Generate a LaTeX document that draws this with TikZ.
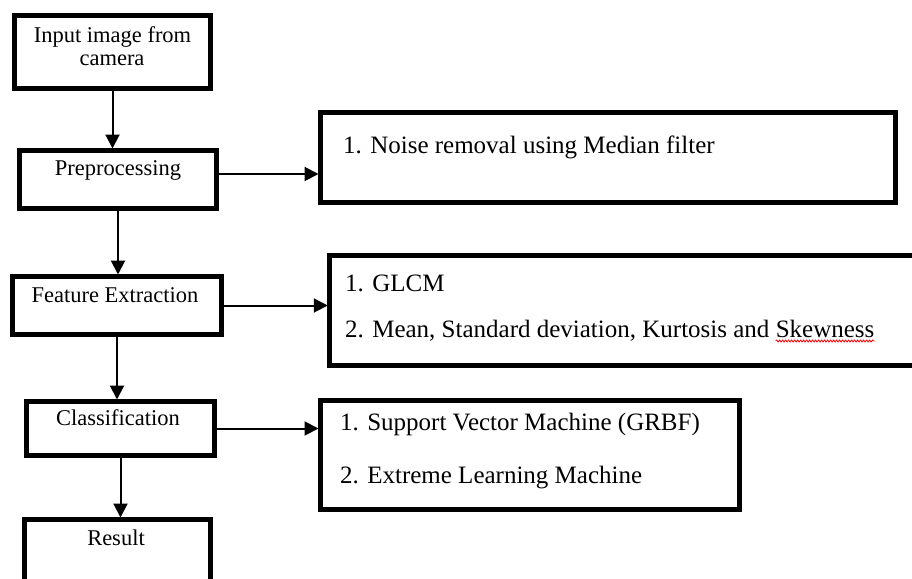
\documentclass[tikz,border=0pt]{standalone}
\usepackage{fontspec}
\setmainfont{Liberation Serif}
\usetikzlibrary{arrows.meta,decorations.pathmorphing}
\begin{document}
\begin{tikzpicture}[x=1pt,y=-1pt,
  box/.style={draw, line width=5pt, rectangle, inner sep=0pt, outer sep=0pt},
  ltxt/.style={inner sep=0pt, anchor=base, font=\fontsize{22.5}{24}\selectfont},
  rtxt/.style={inner sep=0pt, anchor=base west, font=\fontsize{25}{27}\selectfont},
  arr/.style={line width=2pt, -{Triangle[length=14pt,width=14pt]}, shorten >=2pt}]
\clip (0,0) rectangle (912,578);
\fill[white] (0,0) rectangle (912,578);
% left column
\node[box, minimum width=196pt, minimum height=73pt] (in) at (112.5,52) {};
\node[box, minimum width=197pt, minimum height=58pt] (pre) at (118,179.5) {};
\node[box, minimum width=209pt, minimum height=58pt] (feat) at (117,305.5) {};
\node[box, minimum width=188pt, minimum height=54pt] (cls) at (120.5,428.5) {};
\node[box, minimum width=186pt, minimum height=100pt] (res) at (117.5,569.5) {};
\node[ltxt] (in1) at (112.5,42) {Input image from};
\node[ltxt] (in2) at (112,65) {camera};
\node[ltxt] (pret) at (118,175) {Preprocessing};
\node[ltxt] (featt) at (115,302) {Feature Extraction};
\node[ltxt] (clst) at (118,425) {Classification};
\node[ltxt] (rest) at (116,545) {Result};
% right column
\node[box, minimum width=575pt, minimum height=90pt] (r1) at (608,157.5) {};
\node[box, minimum width=620pt, minimum height=110pt] (r2) at (639.75,310.5) {};
\node[box, minimum width=419pt, minimum height=109pt] (r3) at (530,455) {};
\node[rtxt] (r1a) at (343,153) {1. Noise removal using Median filter};
\node[rtxt] (r2a) at (345,291) {1. GLCM};
\node[rtxt] (r2b) at (345,337) {2. Mean, Standard deviation, Kurtosis and};
\node[rtxt, anchor=base west] (r2c) at ([xshift=6pt]r2b.base east) {Skewness};
\draw[red, line width=0.8pt, decorate, decoration={snake, amplitude=1pt, segment length=3pt}]
  ([yshift=-4pt]r2c.base west) -- ([yshift=-4pt]r2c.base east);
\node[rtxt] (r3a) at (340,430) {1. Support Vector Machine (GRBF)};
\node[rtxt] (r3b) at (340,483) {2. Extreme Learning Machine};
% connectors
\draw[arr] (in.south) -- (in.south |- pre.north);
\draw[arr] (pre.south) -- (pre.south |- feat.north);
\draw[arr] (feat.south) -- (feat.south |- cls.north);
\draw[arr] (cls.south) -- (cls.south |- res.north);
\coordinate (p1) at ([yshift=5.5pt]pre.east);
\draw[arr] (p1) -- (p1 -| r1.west);
\draw[arr] (feat.east) -- (feat.east -| r2.west);
\draw[arr] (cls.east) -- (cls.east -| r3.west);
\end{tikzpicture}
\end{document}
